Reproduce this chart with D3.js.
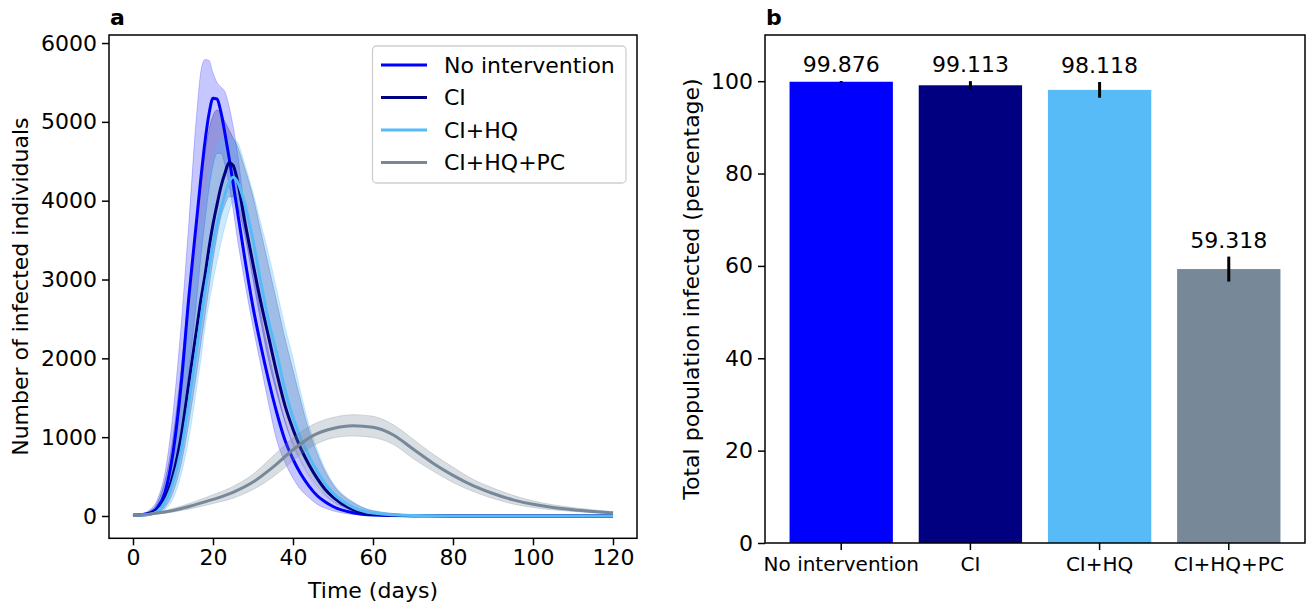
<!DOCTYPE html>
<html><head><meta charset="utf-8">
<script src="https://cdn.jsdelivr.net/npm/d3@7"></script>
<style>
body{margin:0;background:#fff;}
svg{display:block;font-family:"DejaVu Sans",sans-serif;}
</style>
</head><body>
<svg id="c" width="1307" height="603"></svg>
<script>
// ---------------- DATA ----------------
const seriesNames = ["No intervention", "CI", "CI+HQ", "CI+HQ+PC"];
const days = [0,2,4,6,8,10,12,14,16,17,18,19,20,21,22,23,24,25,26,28,30,32,34,36,38,40,42,44,46,48,50,55,60,70,80,100,120];
const noIntMean = [10,15,35,100,300,800,1650,2800,3800,4300,4750,5100,5300,5290,5120,4850,4550,4230,3900,3250,2650,2150,1700,1300,960,720,530,380,260,180,120,40,12,3,1,0,0];
const noIntLo   = [5,8,18,50,150,430,1000,1850,2800,3300,3750,4150,4450,4600,4600,4450,4200,3900,3550,2950,2400,1900,1400,950,680,480,330,230,150,100,65,20,5,1,0,0,0];
const noIntHi   = [15,25,70,200,550,1300,2400,3750,5150,5650,5790,5780,5620,5500,5440,5380,5200,4950,4650,3850,3150,2550,2050,1600,1200,900,680,500,360,260,180,70,25,5,1,0,0];
const ciMean    = [10,12,25,70,220,520,1000,1700,2400,2750,3050,3400,3700,3950,4180,4350,4480,4450,4280,3720,3200,2700,2250,1800,1400,1100,850,650,480,340,240,80,22,3,1,0,0];
const ciLo      = [5,7,12,35,110,300,650,1200,1850,2200,2550,2900,3250,3550,3800,3950,4050,4050,3950,3550,3000,2450,1950,1550,1200,920,700,520,380,270,190,70,22,4,1,0,0];
const ciHi      = [15,22,55,160,450,1000,1850,2850,3750,4200,4600,4900,5080,5150,5100,5000,4900,4800,4700,4400,4050,3600,3150,2700,2250,1850,1450,1080,800,570,400,170,65,15,3,0,0];
const cihqMean  = [10,12,20,55,180,430,830,1450,2150,2500,2850,3150,3450,3700,3900,4080,4230,4297,4250,3950,3500,2950,2450,2050,1600,1250,980,760,570,410,290,110,38,5,1,0,0];
const cihqLo    = [5,6,10,25,80,220,520,1000,1650,2000,2400,2700,2980,3230,3470,3680,3860,3990,3980,3700,3200,2700,2200,1800,1400,1050,800,600,430,300,210,80,25,5,1,0,0];
const cihqHi    = [15,20,45,130,380,850,1600,2500,3300,3700,4050,4350,4550,4700,4780,4800,4800,4780,4750,4450,4100,3700,3300,2850,2400,2000,1550,1150,850,600,420,180,70,15,3,0,0];
const pcDays    = [0,5,10,15,20,25,30,35,40,45,50,55,60,65,70,75,80,85,90,95,100,105,110,115,120];
const pcMean    = [10,30,70,135,210,300,430,620,840,1020,1110,1145,1125,1030,850,670,515,385,285,205,148,108,80,58,40];
const pcLo      = [8,20,50,98,158,225,335,495,700,890,990,1015,995,910,730,570,425,312,222,152,108,78,57,41,28];
const pcHi      = [12,40,95,175,270,375,530,760,990,1160,1250,1285,1265,1160,975,785,620,465,355,262,192,142,107,79,55];
const xTicksA = [0,20,40,60,80,100,120];
const yTicksA = [0,1000,2000,3000,4000,5000,6000];
const totalInfected = [99.876, 99.113, 98.118, 59.318];
const totalErr      = [0.15, 0.9, 1.7, 2.7];
const yTicksB = [0,20,40,60,80,100];

// ---------------- STYLE ----------------
const colors = ["#0000ff", "#000080", "#56bbf7", "#778899"];
const bandAlpha = [0.22, 0.25, 0.3, 0.28];
const FS = 22;
const svg = d3.select("#c");

// ---------------- PANEL A ----------------
const A = {l:109, r:637, t:35, b:538.3};
const x = d3.scaleLinear().domain([-6,126]).range([A.l, A.r]);
const y = d3.scaleLinear().domain([-283,6102]).range([A.b, A.t]);

svg.append("defs").append("clipPath").attr("id","clipA")
  .append("rect").attr("x",A.l).attr("y",A.t).attr("width",A.r-A.l).attr("height",A.b-A.t);

const gA = svg.append("g").attr("clip-path","url(#clipA)");
const series = [
  {t:days, m:noIntMean, lo:noIntLo, hi:noIntHi},
  {t:days, m:ciMean, lo:ciLo, hi:ciHi},
  {t:days, m:cihqMean, lo:cihqLo, hi:cihqHi},
  {t:pcDays, m:pcMean, lo:pcLo, hi:pcHi}
];
const line = d3.line().x(d=>x(d[0])).y(d=>y(d[1])).curve(d3.curveMonotoneX);
const area = d3.area().x(d=>x(d[0])).y0(d=>y(d[1])).y1(d=>y(d[2])).curve(d3.curveMonotoneX);
const gBands = gA.append("g"), gLines = gA.append("g");
series.forEach((s,i)=>{
  const pts = s.t.map((t,k)=>[t, s.m[k]]);
  const band = s.t.map((t,k)=>[t, s.lo[k], s.hi[k]]);
  const gb = (i===3) ? gLines : gBands;
  gb.append("path").datum(band).attr("d",area)
    .attr("fill",colors[i]).attr("fill-opacity",bandAlpha[i])
    .attr("stroke",colors[i]).attr("stroke-opacity",bandAlpha[i]).attr("stroke-width",1);
  gLines.append("path").datum(pts).attr("d",line)
    .attr("fill","none").attr("stroke",colors[i]).attr("stroke-width",3).attr("stroke-linejoin","round");
});

// axes A
const axXA = svg.append("g").attr("transform",`translate(0,${A.b})`)
  .call(d3.axisBottom(x).tickValues(xTicksA).tickSize(7).tickPadding(4).tickFormat(d3.format("d")));
const axYA = svg.append("g").attr("transform",`translate(${A.l},0)`)
  .call(d3.axisLeft(y).tickValues(yTicksA).tickSize(7).tickPadding(5).tickFormat(d3.format("d")));
[axXA, axYA].forEach(g=>{
  g.select(".domain").remove();
  g.selectAll("line").attr("stroke","#000").attr("stroke-width",1.5);
  g.selectAll("text").attr("fill","#000").style("font-size",FS+"px").style("font-family","DejaVu Sans");
});
svg.append("rect").attr("x",A.l).attr("y",A.t).attr("width",A.r-A.l).attr("height",A.b-A.t)
  .attr("fill","none").attr("stroke","#000").attr("stroke-width",1.5);

svg.append("text").attr("x",(A.l+A.r)/2).attr("y",598).attr("text-anchor","middle")
  .style("font-size",FS+"px").text("Time (days)");
svg.append("text").attr("transform",`translate(28,${(A.t+A.b)/2}) rotate(-90)`).attr("text-anchor","middle")
  .style("font-size",FS+"px").text("Number of infected individuals");
svg.append("text").attr("x",110).attr("y",25).style("font-size",FS+"px").style("font-weight","bold").text("a");

// legend
const lg = svg.append("g");
lg.append("rect").attr("x",372.5).attr("y",46).attr("width",253.5).attr("height",137).attr("rx",4)
  .attr("fill","#fff").attr("fill-opacity",0.8).attr("stroke","#d0d0d0").attr("stroke-width",1.3);
seriesNames.forEach((n,i)=>{
  const yy = 65 + i*32.5;
  lg.append("line").attr("x1",381).attr("x2",427).attr("y1",yy).attr("y2",yy)
    .attr("stroke",colors[i]).attr("stroke-width",3);
  lg.append("text").attr("x",444).attr("y",yy).attr("dy","0.36em").style("font-size",FS+"px").text(n);
});

// ---------------- PANEL B ----------------
const B = {l:765, r:1305, t:35, b:543};
const bx = d3.scaleBand().domain(seriesNames).range([B.l,B.r]).paddingInner(0.2).paddingOuter(0.19);
const by = d3.scaleLinear().domain([0,110]).range([B.b,B.t]);

svg.append("g").selectAll("rect").data(seriesNames).join("rect")
  .attr("x",d=>bx(d)).attr("width",bx.bandwidth())
  .attr("y",(d,i)=>by(totalInfected[i])).attr("height",(d,i)=>B.b-by(totalInfected[i]))
  .attr("fill",(d,i)=>colors[i]);
svg.append("g").selectAll("line").data(seriesNames).join("line")
  .attr("x1",d=>bx(d)+bx.bandwidth()/2).attr("x2",d=>bx(d)+bx.bandwidth()/2)
  .attr("y1",(d,i)=>by(totalInfected[i]-totalErr[i])).attr("y2",(d,i)=>by(totalInfected[i]+totalErr[i]))
  .attr("stroke","#000").attr("stroke-width",3);
svg.append("g").selectAll("text").data(seriesNames).join("text")
  .attr("x",d=>bx(d)+bx.bandwidth()/2)
  .attr("y",(d,i)=>by(totalInfected[i]+totalErr[i])-9)
  .attr("text-anchor","middle").style("font-size",FS+"px")
  .text((d,i)=>d3.format(".3f")(totalInfected[i]));

const axXB = svg.append("g").attr("transform",`translate(0,${B.b})`)
  .call(d3.axisBottom(bx).tickSize(7).tickPadding(7));
const axYB = svg.append("g").attr("transform",`translate(${B.l},0)`)
  .call(d3.axisLeft(by).tickValues(yTicksB).tickSize(7).tickPadding(5).tickFormat(d3.format("d")));
[axXB, axYB].forEach(g=>{
  g.select(".domain").remove();
  g.selectAll("line").attr("stroke","#000").attr("stroke-width",1.5);
  g.selectAll("text").attr("fill","#000").style("font-size",FS+"px").style("font-family","DejaVu Sans");
});
axXB.selectAll("text").style("font-size","20px");
svg.append("rect").attr("x",B.l).attr("y",B.t).attr("width",B.r-B.l).attr("height",B.b-B.t)
  .attr("fill","none").attr("stroke","#000").attr("stroke-width",1.5);
svg.append("text").attr("transform",`translate(699,${(B.t+B.b)/2}) rotate(-90)`).attr("text-anchor","middle")
  .style("font-size",FS+"px").text("Total population infected (percentage)");
svg.append("text").attr("x",766).attr("y",25).style("font-size",FS+"px").style("font-weight","bold").text("b");
</script>
</body></html>
